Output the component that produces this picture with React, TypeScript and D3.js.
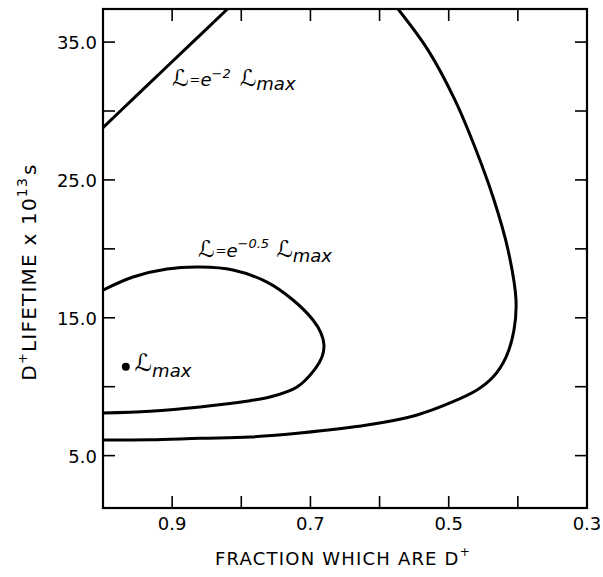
import React from 'react';
import * as d3 from 'd3';

// contour values: [fraction, lifetime x 10^13 s]
const outerUpper: [number, number][] = [
  [1.0, 28.8], [0.955, 30.95], [0.91, 33.1], [0.865, 35.25], [0.82, 37.4], [0.80, 38.4],
];
const outerRight: [number, number][] = [
  [0.5733, 37.4], [0.5299, 34.42], [0.4909, 30.79], [0.4605, 27.17], [0.4345, 23.54],
  [0.4142, 19.92], [0.4027, 16.29], [0.4056, 14.11], [0.4171, 12.15], [0.4359, 10.7],
  [0.4591, 9.76], [0.4981, 8.82], [0.5458, 7.95], [0.6182, 7.22], [0.7151, 6.64],
  [0.7874, 6.35], [0.8597, 6.26], [0.932, 6.15], [1.0, 6.13],
];
const innerContour: [number, number][] = [
  [1.0, 17.01], [0.9566, 17.96], [0.9074, 18.54], [0.8597, 18.68], [0.812, 18.47],
  [0.7628, 17.59], [0.7252, 16.29], [0.6963, 14.84], [0.6847, 13.89], [0.6804, 13.02],
  [0.6833, 12.15], [0.6934, 11.28], [0.7194, 9.98], [0.7585, 9.25], [0.7874, 8.98],
  [0.8597, 8.53], [0.932, 8.22], [1.0, 8.09],
];
const maxPoint: [number, number] = [0.967, 11.45];

const xTicks = [0.9, 0.8, 0.7, 0.6, 0.5, 0.4];
const xTickLabels = [0.9, 0.7, 0.5, 0.3];
const yTicks = [5, 10, 15, 20, 25, 30, 35];
const yTickLabels = [5, 15, 25, 35];

const W = 603;
const H = 577;
const left = 103, right = 587, top = 9, bottom = 508;

const x = d3.scaleLinear().domain([1.0, 0.3]).range([left, right]);
const y = d3.scaleLinear().domain([1.2, 37.4]).range([bottom, top]);

const line = d3.line<[number, number]>()
  .x(d => x(d[0]))
  .y(d => y(d[1]))
  .curve(d3.curveCatmullRom.alpha(0.5));

const fmt = d3.format('.1f');
const font = "'DejaVu Sans', sans-serif";
const tick = 12;

// the script L in the labels
const ScriptL = ({ size = 24 }: { size?: number }) => (
  <tspan fontStyle="italic" fontSize={size}>ℒ</tspan>
);

export default function App() {
  return (
    <svg width={W} height={H} style={{ position: 'absolute', left: 0, top: 0, background: '#fff' }}
      fontFamily={font}>
      <defs>
        <clipPath id="plot">
          <rect x={left} y={top} width={right - left} height={bottom - top} />
        </clipPath>
      </defs>

      {/* frame */}
      <rect x={left} y={top} width={right - left} height={bottom - top}
        fill="none" stroke="#000" strokeWidth={2.2} />

      {/* x ticks, bottom and top */}
      {xTicks.map(t => (
        <g key={'xt' + t} stroke="#000" strokeWidth={1.6}>
          <line x1={x(t)} x2={x(t)} y1={bottom} y2={bottom - tick} />
          <line x1={x(t)} x2={x(t)} y1={top} y2={top + tick} />
        </g>
      ))}
      {xTickLabels.map(t => (
        <text key={'xl' + t} x={x(t)} y={bottom + 22} textAnchor="middle" fontSize={18}>{fmt(t)}</text>
      ))}

      {/* y ticks, left and right */}
      {yTicks.map(t => (
        <g key={'yt' + t} stroke="#000" strokeWidth={1.6}>
          <line x1={left} x2={left + tick} y1={y(t)} y2={y(t)} />
          <line x1={right} x2={right - tick} y1={y(t)} y2={y(t)} />
        </g>
      ))}
      {yTickLabels.map(t => (
        <text key={'yl' + t} x={left - 6} y={y(t) + 7} textAnchor="end" fontSize={18}>{fmt(t)}</text>
      ))}

      {/* contours */}
      <g clipPath="url(#plot)" fill="none" stroke="#000" strokeWidth={3} strokeLinejoin="round">
        <path d={line(outerUpper) ?? ''} />
        <path d={line(outerRight) ?? ''} />
        <path d={line(innerContour) ?? ''} />
      </g>

      {/* maximum */}
      <circle cx={x(maxPoint[0])} cy={y(maxPoint[1])} r={4} fill="#000" />
      <text x={x(maxPoint[0]) + 9} y={y(maxPoint[1]) + 4} fontSize={18}>
        <ScriptL size={24} />
        <tspan fontStyle="italic" dy={6}>max</tspan>
      </text>

      {/* contour labels */}
      <text x={172} y={86} fontSize={16}>
        <ScriptL size={23} />
        <tspan fontSize={13} dx={1} dy={-2}>=</tspan>
        <tspan fontStyle="italic" fontSize={18} dy={2}>e</tspan>
        <tspan fontStyle="italic" fontSize={13} dy={-8}>−2</tspan>
        <tspan dx={9} dy={8}><ScriptL size={23} /></tspan>
        <tspan fontStyle="italic" fontSize={18} dy={4}>max</tspan>
      </text>
      <text x={198} y={257} fontSize={16}>
        <ScriptL size={23} />
        <tspan fontSize={13} dx={1} dy={-2}>=</tspan>
        <tspan fontStyle="italic" fontSize={18} dy={2}>e</tspan>
        <tspan fontStyle="italic" fontSize={13} dy={-9}>−0.5</tspan>
        <tspan dx={7} dy={9}><ScriptL size={23} /></tspan>
        <tspan fontStyle="italic" fontSize={18} dy={5}>max</tspan>
      </text>

      {/* axis titles */}
      <text x={(left + right) / 2 - 2} y={565} textAnchor="middle" fontSize={18} letterSpacing={1.2}>
        FRACTION WHICH ARE D<tspan fontSize={12} dy={-9}>+</tspan>
      </text>
      <text transform="translate(36,272) rotate(-90)" textAnchor="middle" fontSize={20} letterSpacing={1.2}>
        D<tspan fontSize={13} dy={-9}>+</tspan>
        <tspan dy={9}>LIFETIME x 10</tspan>
        <tspan fontSize={14} dy={-9}>13</tspan>
        <tspan dy={9} dx={2}>s</tspan>
      </text>
    </svg>
  );
}
